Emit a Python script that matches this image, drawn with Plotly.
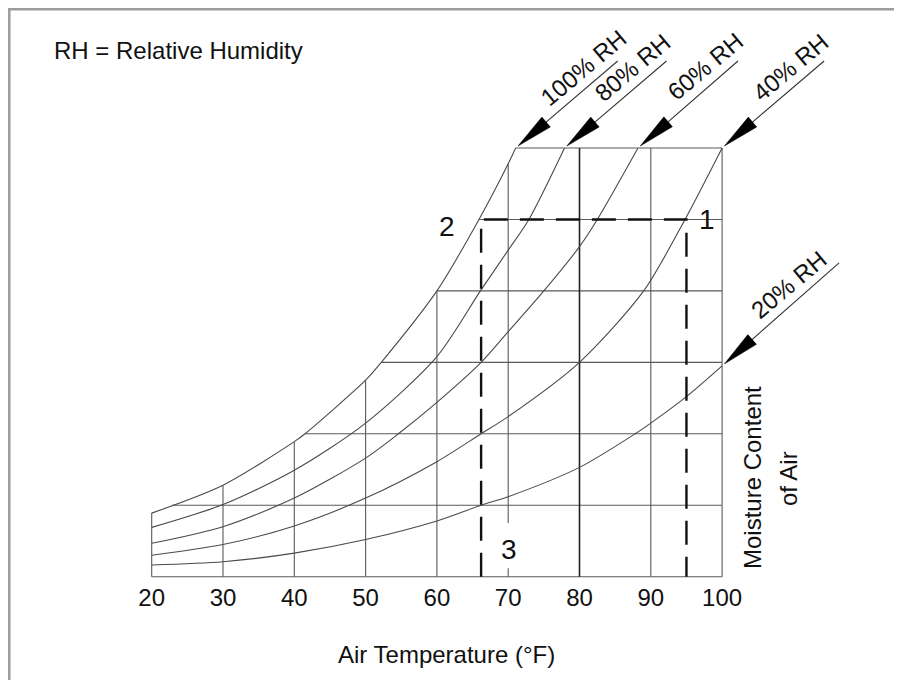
import numpy as np
import plotly.graph_objects as go

# ---------------- data ----------------
temp_ticks = [20, 30, 40, 50, 60, 70, 80, 90, 100]
moisture_levels = [0, 1, 2, 3, 4, 5, 6]

rh100_T = [20, 30, 40, 41.5, 50, 52.2, 60, 65.9, 70, 71.05]
rh100_M = [0.89, 1.28, 1.89, 2.0, 2.75, 3.0, 4.0, 5.0, 5.78, 6.0]
rh80_T = [20, 30, 40, 50, 60, 66.1, 70, 72.9, 77.9]
rh80_M = [0.69, 1.01, 1.49, 2.15, 3.08, 4.0, 4.57, 5.0, 6.0]
rh60_T = [20, 30, 40, 50, 54.6, 60, 66.2, 70, 75, 80, 82.5, 88.2]
rh60_M = [0.467, 0.70, 1.10, 1.66, 2.0, 2.44, 3.0, 3.43, 4.0, 4.62, 5.0, 6.0]
rh40_T = [20, 30, 40, 50, 60, 66.2, 70, 80, 89.0, 94.8, 100]
rh40_M = [0.30, 0.45, 0.71, 1.10, 1.61, 2.0, 2.24, 3.0, 4.0, 5.0, 6.0]
rh20_T = [20, 30, 40, 50, 60, 66.2, 70, 80, 87.8, 90, 95, 100]
rh20_M = [0.164, 0.21, 0.33, 0.52, 0.78, 1.0, 1.12, 1.53, 2.0, 2.15, 2.52, 2.95]

rh_labels = ["100% RH", "80% RH", "60% RH", "40% RH", "20% RH"]
curves_T = [rh100_T, rh80_T, rh60_T, rh40_T, rh20_T]
curves_M = [rh100_M, rh80_M, rh60_M, rh40_M, rh20_M]

# process path: 3 -> 2 -> 1 (dashed)
process_T = [66.2, 66.2, 95, 95]
process_M = [0, 5, 5, 0]
state_labels = ["1", "2", "3"]

# ---------------- layout helpers (page pixel coords) ----------------
OFF = 8                   # browser body margin: the plot div starts at (8, 8)
W, H = 902 - OFF, 688 - 2 * OFF
X0, SX = 151.7, 7.13      # page px at 20 °F, px per °F
Y0, SY = 576.7, 71.45     # page px at zero moisture, px per grid unit


def T_of(px):
    return 20 + (px - X0) / SX


def M_of(py):
    return (Y0 - py) / SY


def px_of(T):
    return X0 + (T - 20) * SX


def py_of(M):
    return Y0 - M * SY


FONT = "Liberation Sans, Arial, Helvetica, sans-serif"
GRID = "#5a5a5a"
CURVE = "#4a4a4a"

fig = go.Figure()

# ---------------- frame (top/left border of the picture) ----------------
fx = [T_of(OFF + W + 20), T_of(9.3), T_of(9.3)]
fy = [M_of(9.3), M_of(9.3), M_of(OFF + H + 20)]
fig.add_trace(go.Scatter(x=fx, y=fy, mode="lines", line=dict(color="#9c9c9c", width=2.5),
                         hoverinfo="skip", showlegend=False))

# ---------------- grid clipped by the saturation curve ----------------
top_M = max(moisture_levels)
gx, gy = [], []
dark_x, dark_y = [], []
for T in temp_ticks:
    top = float(np.interp(T, rh100_T, rh100_M)) if T <= rh100_T[-1] else top_M
    top = min(top, top_M)
    if T == 70:  # gap around label "3"
        segs = [(0, 0.12), (0.75, top)]
    else:
        segs = [(0, top)]
    for a, b in segs:
        if T == 80:
            dark_x += [T, T, None]
            dark_y += [a, b, None]
        else:
            gx += [T, T, None]
            gy += [a, b, None]
for M in moisture_levels:
    start = float(np.interp(M, rh100_M, rh100_T)) if M >= rh100_M[0] else temp_ticks[0]
    gx += [start, temp_ticks[-1], None]
    gy += [M, M, None]

fig.add_trace(go.Scatter(x=gx, y=gy, mode="lines", line=dict(color=GRID, width=1.1),
                         hoverinfo="skip", showlegend=False))
fig.add_trace(go.Scatter(x=dark_x, y=dark_y, mode="lines", line=dict(color="#222", width=1.6),
                         hoverinfo="skip", showlegend=False))

# ---------------- RH curves ----------------
for Tl, Ml in zip(curves_T, curves_M):
    fig.add_trace(go.Scatter(x=Tl, y=Ml, mode="lines",
                             line=dict(color=CURVE, width=1.1, shape="spline", smoothing=0.8),
                             hoverinfo="skip", showlegend=False))

# ---------------- dashed process path ----------------
fig.add_trace(go.Scatter(x=process_T, y=process_M, mode="lines",
                         line=dict(color="#111", width=2.4, dash="24px,12px"),
                         hoverinfo="skip", showlegend=False))

# ---------------- arrows with labels ----------------
arrow_offsets = [(102, -87), (102, -87), (100, -87), (102, -87), (117, -103)]
HEAD_L, HEAD_W, STANDOFF = 37, 13, 3
LBL_D, LBL_E = 101, 17
annotations = []
for lbl, Tl, Ml, (dx, dy) in zip(rh_labels, curves_T, curves_M, arrow_offsets):
    ex, ey = px_of(Tl[-1]), py_of(Ml[-1])
    n = np.hypot(dx, dy)
    ux, uy = dx / n, dy / n
    tipx, tipy = ex + STANDOFF * ux, ey + STANDOFF * uy
    tailx, taily = ex + dx, ey + dy
    bx, by = tipx + HEAD_L * ux, tipy + HEAD_L * uy
    nx, ny = -uy, ux
    fig.add_trace(go.Scatter(x=[T_of(bx - 2 * ux), T_of(tailx)], y=[M_of(by - 2 * uy), M_of(taily)],
                             mode="lines", line=dict(color="#333", width=1.1),
                             hoverinfo="skip", showlegend=False))
    hx = [tipx, bx + nx * HEAD_W / 2, bx - nx * HEAD_W / 2, tipx]
    hy = [tipy, by + ny * HEAD_W / 2, by - ny * HEAD_W / 2, tipy]
    fig.add_trace(go.Scatter(x=[T_of(v) for v in hx], y=[M_of(v) for v in hy], mode="lines",
                             fill="toself", fillcolor="#000", line=dict(color="#000", width=0.5),
                             hoverinfo="skip", showlegend=False))
    cx = tipx + LBL_D * ux + LBL_E * uy
    cy = tipy + LBL_D * uy - LBL_E * ux
    annotations.append(dict(x=T_of(cx), y=M_of(cy), xref="x", yref="y", text=lbl,
                            showarrow=False, textangle=-40, xanchor="center", yanchor="middle",
                            font=dict(family=FONT, size=24, color="#111")))

# ---------------- state labels ----------------
state_pos = [(process_T[2], process_M[2], 21, 0),
             (process_T[1], process_M[1], -34, 7),
             (70, process_M[0], 1, -27)]
for lab, (T, M, ox, oy) in zip(state_labels, state_pos):
    annotations.append(dict(x=T_of(px_of(T) + ox), y=M_of(py_of(M) + oy), xref="x", yref="y",
                            text=lab, showarrow=False, xanchor="center", yanchor="middle",
                            font=dict(family=FONT, size=28, color="#111")))

# ---------------- other texts ----------------
annotations.append(dict(x=T_of(52), y=M_of(50), xref="x", yref="y", text="RH = Relative Humidity",
                        showarrow=False, xanchor="left", yanchor="middle",
                        font=dict(family=FONT, size=24, color="#111")))
annotations.append(dict(x=T_of(446), y=M_of(654), xref="x", yref="y", text="Air Temperature (°F)",
                        showarrow=False, xanchor="center", yanchor="middle",
                        font=dict(family=FONT, size=24, color="#111")))
annotations.append(dict(x=T_of(752), y=M_of(478), xref="x", yref="y", text="Moisture Content",
                        showarrow=False, textangle=-90, xanchor="center", yanchor="middle",
                        font=dict(family=FONT, size=24, color="#111")))
annotations.append(dict(x=T_of(788), y=M_of(479), xref="x", yref="y", text="of Air",
                        showarrow=False, textangle=-90, xanchor="center", yanchor="middle",
                        font=dict(family=FONT, size=24, color="#111")))

fig.update_layout(
    width=W, height=H,
    margin=dict(l=0, r=0, t=0, b=0),
    paper_bgcolor="white", plot_bgcolor="white",
    showlegend=False,
    annotations=annotations,
    xaxis=dict(range=[T_of(OFF), T_of(OFF + W)], tickvals=temp_ticks,
               ticktext=[str(t) for t in temp_ticks],
               showgrid=False, zeroline=False, showline=False, ticks="",
               anchor="free", position=(OFF + H - Y0) / H, ticklabelstandoff=4,
               tickfont=dict(family=FONT, size=24, color="#111"), fixedrange=True),
    yaxis=dict(range=[M_of(OFF + H), M_of(OFF)], visible=False, fixedrange=True),
)

fig.write_html("out.html")
